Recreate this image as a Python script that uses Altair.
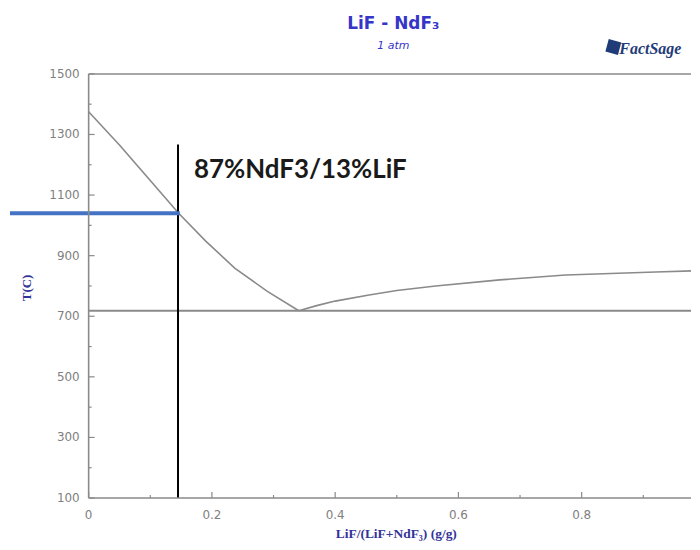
import altair as alt
import pandas as pd

# ---- data ----
liq_left_x = [0.0, 0.05, 0.094, 0.146, 0.19, 0.237, 0.29, 0.341]
liq_left_T = [1375, 1265, 1162, 1040, 948, 859, 782, 718]

liq_right_x = [0.341, 0.37, 0.4, 0.455, 0.5, 0.563, 0.667, 0.774, 0.92, 1.0]
liq_right_T = [718, 735, 750, 770, 785, 800, 820, 836, 846, 851]

eutectic_x = [0.0, 1.0]
eutectic_T = [718, 718]

comp_x = [0.145]          # vertical composition marker
comp_T_lo = [100]
comp_T_hi = [1267]

blue_x1 = [-0.1276]
blue_x2 = [0.148]
blue_T = [1040]

note_x = [0.171]
note_T = [1155]
note_text = ["87%NdF3/13%LiF"]

title_text = ["LiF - NdF₃"]
subtitle_text = ["1 atm"]
x_title = ["LiF/(LiF+NdF₃) (g/g)"]
y_title = ["T(C)"]

y_major = [100, 300, 500, 700, 900, 1100, 1300, 1500]
y_labels = ["100", "300", "500", "700", "900", "1100", "1300", "1500"]
y_minor = [200, 400, 600, 800, 1000, 1200, 1400]
x_major = [0.0, 0.2, 0.4, 0.6, 0.8]
x_labels = ["0", "0.2", "0.4", "0.6", "0.8"]
x_minor = [0.1, 0.3, 0.5, 0.7, 0.9]

W, H = 605, 426
XMAX = 0.9774

gray = "#8a8a8a"
lblgray = "#808080"
navy = "#333399"
tblue = "#3535c8"

xs = alt.Scale(domain=[0, XMAX], nice=False, zero=False)
ys = alt.Scale(domain=[100, 1500], nice=False, zero=False)

liq = pd.DataFrame({
    "x": liq_left_x + liq_right_x,
    "T": liq_left_T + liq_right_T,
    "seg": ["L"] * len(liq_left_x) + ["R"] * len(liq_right_x),
})
eut = pd.DataFrame({"x": eutectic_x, "T": eutectic_T})
comp = pd.DataFrame({"x": comp_x, "T1": comp_T_lo, "T2": comp_T_hi})
blue = pd.DataFrame({"x1": blue_x1, "x2": blue_x2, "T": blue_T})
note = pd.DataFrame({"x": note_x, "T": note_T, "t": note_text})
ttl = pd.DataFrame({"t": title_text, "s": subtitle_text, "xt": x_title, "yt": y_title})
ymaj = pd.DataFrame({"v": y_major, "lab": y_labels})
ymin = pd.DataFrame({"v": y_minor})
xmaj = pd.DataFrame({"v": x_major, "lab": x_labels})
xmin = pd.DataFrame({"v": x_minor})

X = lambda f: alt.X(f, scale=xs, axis=None)
Y = lambda f: alt.Y(f, scale=ys, axis=None)

curves = alt.Chart(liq).mark_line(color=gray, strokeWidth=1.6, clip=True).encode(
    x=X("x:Q"), y=Y("T:Q"), detail="seg:N")

eut_line = alt.Chart(eut).mark_line(color=gray, strokeWidth=2, clip=True).encode(
    x=X("x:Q"), y=Y("T:Q"))

comp_line = alt.Chart(comp).mark_rule(color="#000000", strokeWidth=2).encode(
    x=X("x:Q"), y=Y("T1:Q"), y2="T2:Q")

blue_line = alt.Chart(blue).mark_rule(color="#4472C4", strokeWidth=4, clip=False).encode(
    x=X("x1:Q"), x2="x2:Q", y=Y("T:Q"))

note_txt = alt.Chart(note).mark_text(
    align="left", baseline="alphabetic", font="Lato", fontWeight="bold",
    fontSize=26, color="#1a1a1a",
).encode(x=X("x:Q"), y=Y("T:Q"), text="t:N")

# --- axes: domain lines, inward ticks, labels, titles ---
tick_style = dict(color=gray, strokeWidth=1.2)
ymaj_t = alt.Chart(ymaj).mark_rule(**tick_style).encode(
    y=Y("v:Q"), x=alt.value(0), x2=alt.value(6))
ymin_t = alt.Chart(ymin).mark_rule(**tick_style).encode(
    y=Y("v:Q"), x=alt.value(0), x2=alt.value(3))
xmaj_t = alt.Chart(xmaj).mark_rule(**tick_style).encode(
    x=X("v:Q"), y=alt.value(H), y2=alt.value(H - 6))
xmin_t = alt.Chart(xmin).mark_rule(**tick_style).encode(
    x=X("v:Q"), y=alt.value(H), y2=alt.value(H - 3))

left_dom = alt.Chart(ttl).mark_rule(color=gray, strokeWidth=1.6).encode(
    x=alt.value(0), y=alt.value(0), y2=alt.value(H))
bottom_dom = alt.Chart(ttl).mark_rule(color=gray, strokeWidth=1.6).encode(
    x=alt.value(0), x2=alt.value(W), y=alt.value(H))
top_frame = alt.Chart(ttl).mark_rule(color=gray, strokeWidth=1.5).encode(
    x=alt.value(0), x2=alt.value(W), y=alt.value(0))

y_lab = alt.Chart(ymaj).mark_text(
    align="right", baseline="middle", font="DejaVu Sans", fontSize=12, color=lblgray,
).encode(y=Y("v:Q"), x=alt.value(-9), text="lab:N")
x_lab = alt.Chart(xmaj).mark_text(
    align="center", baseline="middle", font="DejaVu Sans", fontSize=12, color=lblgray,
).encode(x=X("v:Q"), y=alt.value(H + 17), text="lab:N")

y_ttl = alt.Chart(ttl).mark_text(
    align="center", baseline="middle", angle=270, font="Liberation Serif",
    fontWeight="bold", fontSize=13, color=navy,
).encode(x=alt.value(-62), y=alt.value(H / 2 + 2), text="yt:N")
x_ttl = alt.Chart(ttl).mark_text(
    align="center", baseline="middle", font="Liberation Serif",
    fontWeight="bold", fontSize=13.5, color=navy,
).encode(x=alt.value(309), y=alt.value(H + 36), text="xt:N")

title_mark = alt.Chart(ttl).mark_text(
    align="center", baseline="alphabetic", font="DejaVu Sans", fontWeight="bold",
    fontSize=17, color=tblue,
).encode(x=alt.value(306), y=alt.value(-45), text="t:N")
subtitle_mark = alt.Chart(ttl).mark_text(
    align="center", baseline="alphabetic", font="DejaVu Sans", fontStyle="italic",
    fontSize=11, color=tblue,
).encode(x=alt.value(306), y=alt.value(-25), text="s:N")

logo_box = alt.Chart(ttl).mark_point(
    shape="square", filled=True, color="#1f3c78", size=170, angle=15, opacity=1
).encode(x=alt.value(527), y=alt.value(-27))
logo_txt = alt.Chart(ttl).mark_text(
    text="FactSage", align="left", baseline="alphabetic", font="Liberation Serif",
    fontWeight="bold", fontStyle="italic", fontSize=16, color="#1f3c78",
).encode(x=alt.value(533), y=alt.value(-20))

chart = alt.layer(
    curves, eut_line, comp_line, blue_line, note_txt,
    ymaj_t, ymin_t, xmaj_t, xmin_t, left_dom, bottom_dom, top_frame,
    y_lab, x_lab, y_ttl, x_ttl,
    title_mark, subtitle_mark, logo_box, logo_txt,
).properties(
    width=W, height=H,
    padding={"left": 0, "top": 6, "right": 0, "bottom": 0},
).configure_view(strokeWidth=0)

chart.save("out.html", embed_options={"renderer": "svg", "actions": False})
